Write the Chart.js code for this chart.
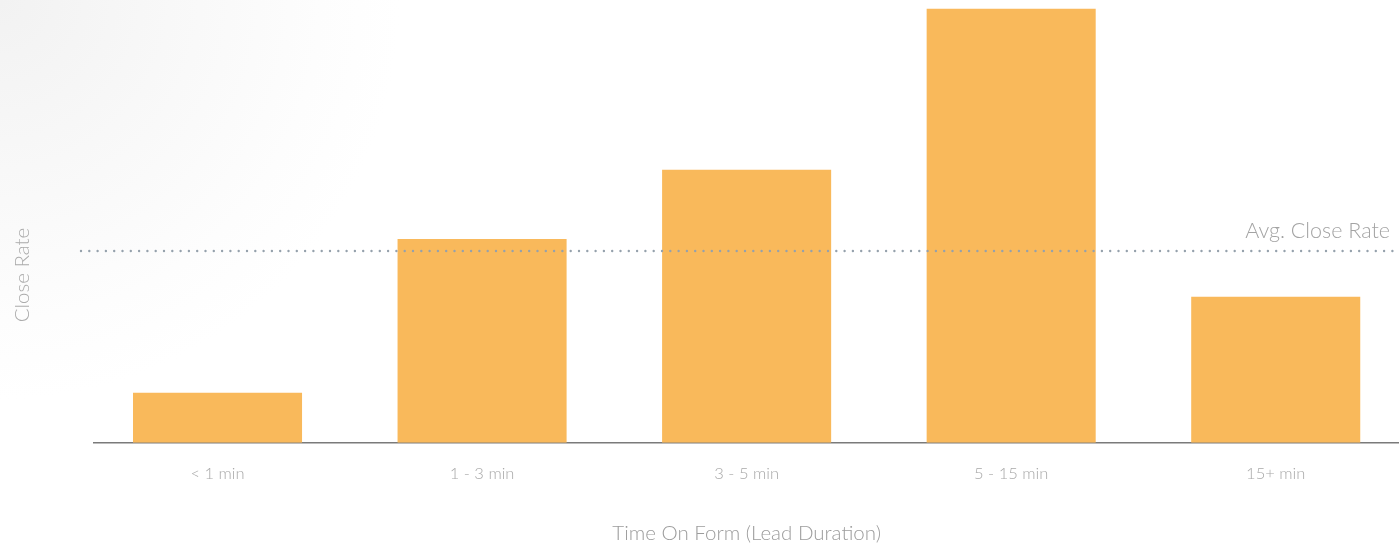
<!DOCTYPE html>
<html>
<head>
<meta charset="utf-8">
<script src="https://cdn.jsdelivr.net/npm/chart.js@4"></script>
<style>
  html, body { margin: 0; padding: 0; overflow: hidden; }
  body {
    width: 1399px; height: 546px;
    background: radial-gradient(circle at 0 0, #f2f2f2 0px, #f8f8f8 170px, #fdfdfd 320px, #ffffff 400px);
  }
  #wrap { position: relative; width: 1408px; height: 546px; }
</style>
</head>
<body>
<div id="wrap"><canvas id="chart"></canvas></div>
<script>
// ================================
// CLOSE RATE BY TIME ON FORM
// ================================

const categories = ["< 1 min", "1 - 3 min", "3 - 5 min", "5 - 15 min", "15+ min"];
const closeRates = [2.26, 9.21, 12.33, 19.6, 6.6];   // estimated, no axis values shown
const avgCloseRate = [8.67];
const avgLabel = ["Avg. Close Rate"];
const yTitle = ["Close Rate"];

const FONT = "Lato, 'Open Sans', sans-serif";

// baseline, avg dotted line, y title
const refLines = {
  id: "refLines",
  beforeDatasetsDraw(chart) {
    const { ctx, scales } = chart;
    const y0 = scales.y.getPixelForValue(0);
    ctx.save();
    ctx.strokeStyle = "#7a7a7a";
    ctx.lineWidth = 1.5;
    ctx.beginPath();
    ctx.moveTo(93, y0);
    ctx.lineTo(1399, y0);
    ctx.stroke();

    // y title (sits lower than chart-area centre in the original)
    ctx.translate(22, 275);
    ctx.rotate(-Math.PI / 2);
    ctx.fillStyle = "#ababab";
    ctx.font = "300 20.5px " + FONT;
    ctx.textAlign = "center";
    ctx.textBaseline = "middle";
    ctx.fillText(yTitle[0], 0, 0);
    ctx.restore();
  },
  afterDatasetsDraw(chart) {
    const { ctx, scales } = chart;
    const yAvg = Math.round(scales.y.getPixelForValue(avgCloseRate[0]));
    ctx.save();
    ctx.strokeStyle = "#95a1ac";
    ctx.lineWidth = 2.4;
    ctx.lineCap = "round";
    ctx.setLineDash([0, 8.3]);
    ctx.beginPath();
    ctx.moveTo(81, yAvg);
    ctx.lineTo(1399, yAvg);
    ctx.stroke();
    ctx.setLineDash([]);
    ctx.fillStyle = "#a3a3a3";
    ctx.font = "300 21.5px " + FONT;
    ctx.textAlign = "right";
    ctx.textBaseline = "middle";
    ctx.fillText(avgLabel[0], 1390, yAvg - 20);
    ctx.restore();
  }
};

new Chart(document.getElementById("chart"), {
  type: "bar",
  data: {
    labels: categories,
    datasets: [
      {
        data: closeRates,
        backgroundColor: "#f9b95b",
        borderWidth: 0,
        barPercentage: 0.639,
        categoryPercentage: 1
      }
    ]
  },
  options: {
    responsive: true,
    maintainAspectRatio: false,
    animation: false,
    layout: { padding: { left: 85.25, right: 0, top: 0, bottom: 0 } },
    plugins: {
      legend: { display: false },
      tooltip: { enabled: false }
    },
    scales: {
      x: {
        grid: { display: false, drawTicks: false },
        border: { display: false },
        ticks: {
          color: "#a8a8a8",
          padding: 21,
          font: { family: FONT, size: 16.5, weight: "300" }
        },
        title: {
          display: true,
          text: "Time On Form (Lead Duration)",
          color: "#9c9c9c",
          padding: { top: 16.8, bottom: 0 },
          font: { family: FONT, size: 20.5, weight: "300" }
        }
      },
      y: {
        display: false,
        min: 0,
        max: 20
      }
    }
  },
  plugins: [refLines]
});
</script>
</body>
</html>
